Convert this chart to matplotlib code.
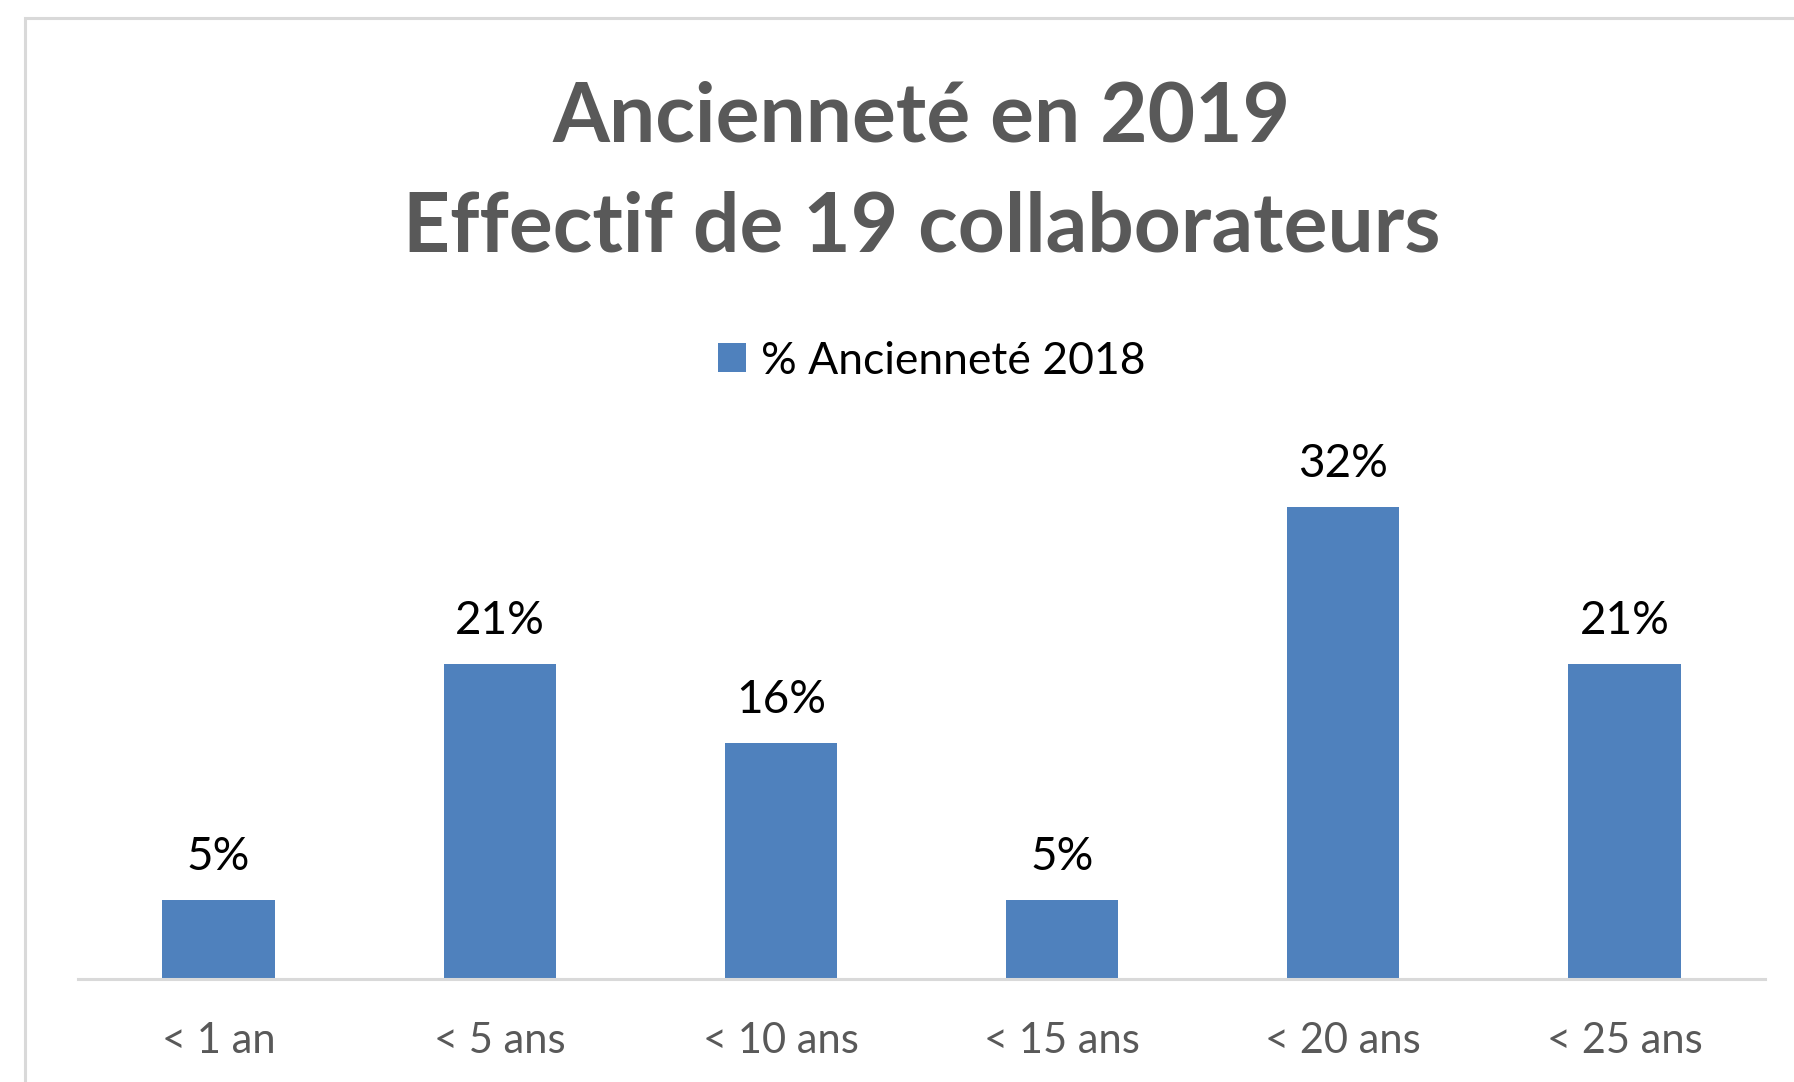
import matplotlib.pyplot as plt
from matplotlib.patches import Rectangle

# Données
categories = ['< 1 an', '< 5 ans', '< 10 ans', '< 15 ans', '< 20 ans', '< 25 ans']
effectifs = [1, 4, 3, 1, 6, 4]
total = 19
pourcentages = [100 * e / total for e in effectifs]
etiquettes = ['5%', '21%', '16%', '5%', '32%', '21%']
titre = ['Ancienneté en 2019', 'Effectif de 19 collaborateurs']
legende = '% Ancienneté 2018'

bleu = '#4f81bd'
gris_texte = '#595959'
gris_ligne = '#d9d9d9'

plt.rcParams['font.family'] = ['Lato', 'DejaVu Sans']

W, H = 1794, 1082
fig = plt.figure(figsize=(W / 100, H / 100), dpi=100)

# Cadre du graphique (coupé à droite et en bas)
fig.patches.append(Rectangle((25 / W, -0.1), 2.0, 1 - 18 / H + 0.1,
                             transform=fig.transFigure, fill=False,
                             edgecolor=gris_ligne, linewidth=2.2))

ax = fig.add_axes([78 / W, 1 - 979 / H, (1765 - 78) / W, 523 / H])
barres = ax.bar(range(len(categories)), pourcentages, width=0.4, color=bleu,
                label=legende)
ax.set_xlim(-0.5, len(categories) - 0.5)
ax.set_ylim(0, 35)

# Étiquettes de données
for b, txt in zip(barres, etiquettes):
    ax.annotate(txt, (b.get_x() + b.get_width() / 2, b.get_height()),
                xytext=(0, 22), textcoords='offset points', ha='center',
                va='baseline', fontsize=33, color='black')

ax.set_xticks(range(len(categories)))
ax.set_xticklabels(categories, fontsize=30, color=gris_texte)
ax.tick_params(axis='x', length=0, pad=31)
ax.set_yticks([])
for s in ['top', 'right', 'left']:
    ax.spines[s].set_visible(False)
ax.spines['bottom'].set_color(gris_ligne)
ax.spines['bottom'].set_linewidth(2.2)

# Titre sur deux lignes
fig.text(922 / W, 1 - 118 / H, titre[0], ha='center', va='center',
         fontsize=59, fontweight='bold', color=gris_texte)
fig.text(922 / W, 1 - 228 / H, titre[1], ha='center', va='center',
         fontsize=59, fontweight='bold', color=gris_texte)

fig.legend(handles=[barres], labels=[legende], loc='center',
           bbox_to_anchor=(932 / W, 1 - 361 / H), frameon=False, fontsize=32,
           handlelength=0.62, handleheight=0.62, handletextpad=0.35)

plt.savefig('out.png', dpi=100)
